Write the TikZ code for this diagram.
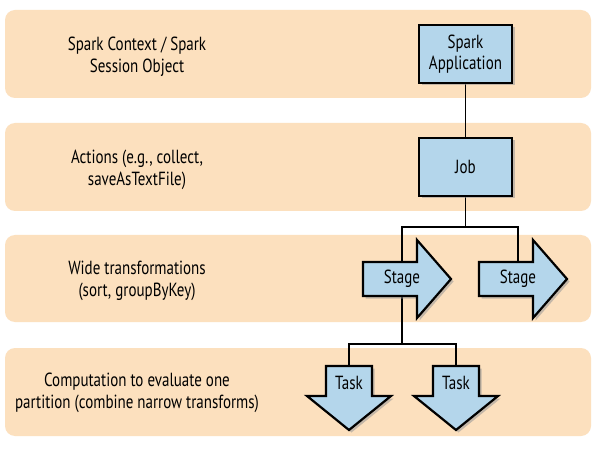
\documentclass[tikz,border=0pt]{standalone}
\usepackage{fontspec}
\setmainfont[FakeStretch=0.79]{PT Sans}
\usetikzlibrary{shadows}
\pgfdeclarelayer{bg}
\pgfdeclarelayer{lines}
\pgfdeclarelayer{shapes}
\pgfsetlayers{bg,lines,shapes,main}
\definecolor{bandcol}{RGB}{252,224,190}
\definecolor{boxblue}{RGB}{180,214,235}
\definecolor{shadowcol}{RGB}{150,150,150}
\tikzset{
  txt/.style={font=\fontsize{19}{21.5}\selectfont},
  bandtext/.style={txt, align=center, inner sep=0pt},
  myshadow/.style={drop shadow={fill=shadowcol, opacity=0.55, shadow xshift=2.5pt, shadow yshift=-2.5pt}},
  sbox/.style={txt, draw, line width=2.2pt, fill=boxblue, minimum width=93pt, minimum height=58pt, align=center, myshadow},
  shapebox/.style={draw, line width=2.2pt, fill=boxblue, line join=miter, myshadow},
  lbl/.style={txt, inner sep=1pt},
  conn/.style={line width=1.8pt}
}
\begin{document}
\begin{tikzpicture}[x=1pt,y=-1pt]
\useasboundingbox (0,0) rectangle (608,449);
% bands
\begin{pgfonlayer}{bg}
  \fill[white] (0,0) rectangle (608,449);
  \fill[bandcol, rounded corners=10pt] (5,10) rectangle (591,98);
  \fill[bandcol, rounded corners=10pt] (5,123) rectangle (591,211);
  \fill[bandcol, rounded corners=10pt] (5,235) rectangle (591,322);
  \fill[bandcol, rounded corners=10pt] (5,348) rectangle (591,436);
\end{pgfonlayer}
% band texts
\node[bandtext] (t1) at (137,57) {Spark Context / Spark\\Session Object};
\node[bandtext] (t2) at (137,170) {Actions (e.g., collect,\\saveAsTextFile)};
\node[bandtext] (t3) at (137,281) {Wide transformations\\(sort, groupByKey)};
\node[bandtext] (t4) at (137,393) {Computation to evaluate one\\partition (combine narrow transforms)};
% boxes
\node[sbox] (app) at (465.5,54) {Spark\\Application};
\node[sbox] (job) at (465.5,167) {Job};
% arrow labels
\node[lbl] (stage1) at (402,279) {Stage};
\node[lbl] (stage2) at (518,279) {Stage};
\node[lbl] (task1) at (349,383) {Task};
\node[lbl] (task2) at (456,383) {Task};
\coordinate (split1) at (465.5,227);
\coordinate (split2) at (402,344);
% arrow shapes
\begin{pgfonlayer}{shapes}
  \path[shapebox, shift={(stage1)}] (-39,-17) -- (15,-17) -- (15,-39) -- (49,0) -- (15,39) -- (15,17) -- (-39,17) -- cycle;
  \path[shapebox, shift={(stage2)}] (-39,-17) -- (15,-17) -- (15,-39) -- (49,0) -- (15,39) -- (15,17) -- (-39,17) -- cycle;
  \path[shapebox, shift={(task1)}] (-23,-17) -- (23,-17) -- (23,13) -- (42,13) -- (0,47) -- (-42,13) -- (-23,13) -- cycle;
  \path[shapebox, shift={(task2)}] (-23,-17) -- (23,-17) -- (23,13) -- (42,13) -- (0,47) -- (-42,13) -- (-23,13) -- cycle;
\end{pgfonlayer}
% connectors
\begin{pgfonlayer}{lines}
  \draw[conn] (app) -- (job);
  \draw[conn] (job) -- (split1);
  \draw[conn] (split1) -| (stage1);
  \draw[conn] (split1) -| (stage2);
  \draw[conn] (stage1) -- (split2);
  \draw[conn] (split2) -| (task1);
  \draw[conn] (split2) -| (task2);
\end{pgfonlayer}
\end{tikzpicture}
\end{document}
